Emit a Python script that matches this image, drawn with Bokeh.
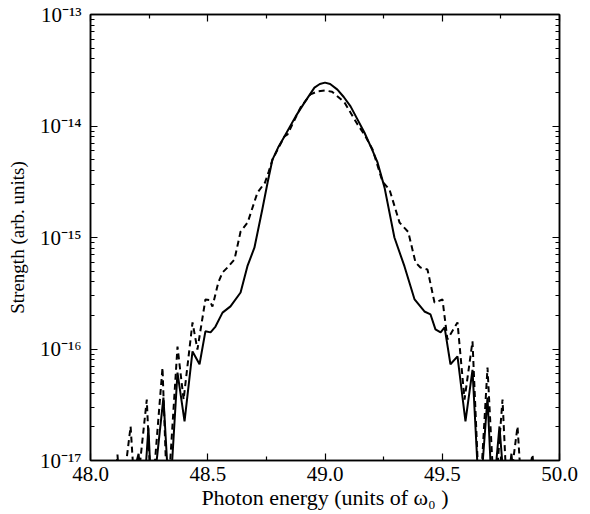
from bokeh.plotting import figure
from bokeh.models import (Range1d, FixedTicker, CustomJSTickFormatter, LinearAxis, LogAxis)
from bokeh.embed import file_html
from bokeh.resources import INLINE

# Photon energy (units of omega_0)
solid_x = [48.150, 48.205, 48.225, 48.247, 48.262, 48.311, 48.337, 48.371, 48.401,
           48.435, 48.465, 48.490, 48.512, 48.533, 48.563, 48.597, 48.640, 48.670,
           48.699, 48.733, 48.755, 48.776, 48.800, 48.827, 48.875, 48.913, 48.955,
           48.978, 49.000, 49.022, 49.053, 49.080,
           49.109, 49.168, 49.200, 49.224, 49.254, 49.296, 49.339, 49.382, 49.424, 49.450,
           49.471, 49.493, 49.510, 49.535, 49.565, 49.599, 49.629, 49.659, 49.693,
           49.714, 49.744, 49.770, 49.795, 49.815, 49.850]
solid_y = [4e-18, 1.15e-17, 4e-18, 1.98e-17, 4e-18, 3.67e-17, 4e-18, 6.15e-17, 2.24e-17,
           9.5e-17, 7.3e-17, 1.44e-16, 1.41e-16, 1.59e-16, 2.12e-16, 2.41e-16, 3.21e-16, 5.6e-16,
           8.1e-16, 1.8e-15, 3.1e-15, 5.0e-15, 6.4e-15, 8.05e-15, 1.22e-14, 1.63e-14, 2.21e-14,
           2.38e-14, 2.45e-14, 2.38e-14, 2.12e-14, 1.82e-14,
           1.50e-14, 8.75e-15, 6.2e-15, 4.71e-15, 2.8e-15, 1.0e-15, 5.5e-16, 2.78e-16, 2.17e-16, 2.04e-16,
           1.50e-16, 1.41e-16, 1.56e-16, 7.3e-17, 8.6e-17, 2.24e-17, 6.5e-17, 4e-18, 3.67e-17,
           4e-18, 2.02e-17, 4e-18, 1.15e-17, 4e-18, 4e-18]

dashed_x = [48.100, 48.115, 48.130, 48.171, 48.192, 48.240, 48.260, 48.307, 48.328,
            48.371, 48.397, 48.435, 48.456, 48.490, 48.507, 48.520, 48.545, 48.563,
            48.584, 48.614, 48.640, 48.670, 48.712, 48.744, 48.760, 48.776, 48.827,
            48.840, 48.896, 48.938, 48.970, 49.000, 49.030, 49.083, 49.139, 49.168, 49.203, 49.245,
            49.275, 49.318, 49.355, 49.386, 49.407, 49.437, 49.467, 49.480, 49.501,
            49.522, 49.565, 49.595, 49.629, 49.659, 49.693, 49.723, 49.757, 49.778,
            49.821, 49.842, 49.885, 49.900]
dashed_y = [4e-18, 1.13e-17, 4e-18, 2.02e-17, 4e-18, 3.52e-17, 4e-18, 6.8e-17, 4e-18,
            1.05e-16, 3.52e-17, 1.73e-16, 9.9e-17, 2.78e-16, 2.75e-16, 2.4e-16, 3.95e-16, 4.86e-16,
            5.38e-16, 6.35e-16, 1.13e-15, 1.36e-15, 2.53e-15, 3.11e-15, 3.9e-15, 5.0e-15, 8.05e-15,
            8.4e-15, 1.47e-14, 1.92e-14, 2.05e-14, 2.08e-14, 2.03e-14, 1.63e-14, 1.03e-14, 8.4e-15, 6.15e-15, 3.18e-15,
            2.69e-15, 1.36e-15, 1.12e-15, 5.97e-16, 5.38e-16, 5.17e-16, 2.61e-16, 2.67e-16, 2.78e-16,
            1.22e-16, 1.73e-16, 3.52e-17, 1.17e-16, 4e-18, 6.8e-17, 4e-18, 3.52e-17, 4e-18,
            2.02e-17, 4e-18, 1.13e-17, 4e-18]

x_major = [48.0, 48.5, 49.0, 49.5, 50.0]
x_minor = [48.25, 48.75, 49.25, 49.75]
y_major = [1e-17, 1e-16, 1e-15, 1e-14, 1e-13]
y_minor = [k * d for d in [1e-17, 1e-16, 1e-15, 1e-14] for k in range(2, 10)]

FONT = "Liberation Serif"

p = figure(frame_width=469, frame_height=446, y_axis_type="log",
           x_range=Range1d(48.0, 50.0), y_range=Range1d(1e-17, 1e-13),
           output_backend="svg", toolbar_location=None,
           min_border_left=90, min_border_top=14, min_border_right=20, min_border_bottom=40)
p.background_fill_color = "white"
p.border_fill_color = "white"
p.outline_line_color = "black"
p.outline_line_width = 1.5
p.grid.visible = False

p.line(solid_x, solid_y, line_color="black", line_width=2)
p.line(dashed_x, dashed_y, line_color="black", line_width=2, line_dash="6 4")

xt = FixedTicker(ticks=x_major, minor_ticks=x_minor)
yt = FixedTicker(ticks=y_major, minor_ticks=y_minor)

sup_code = """
const e = Math.round(Math.log10(tick));
const sup = {'-':'\u207b','0':'\u2070','1':'\u00b9','2':'\u00b2','3':'\u00b3','4':'\u2074',
             '5':'\u2075','6':'\u2076','7':'\u2077','8':'\u2078','9':'\u2079'};
return '10' + String(e).split('').map(c => sup[c]).join('');
"""

def style(ax):
    ax.major_tick_in = 7
    ax.major_tick_out = 0
    ax.minor_tick_in = 4
    ax.minor_tick_out = 0
    ax.axis_line_color = "black"
    ax.axis_line_width = 1.5
    ax.major_tick_line_width = 1.2
    ax.minor_tick_line_width = 1.2
    ax.major_label_text_font = FONT
    ax.major_label_text_font_size = "21px"
    ax.major_label_text_color = "black"
    ax.axis_label_text_font = FONT
    ax.axis_label_text_font_size = "19px"
    ax.axis_label_text_font_style = "normal"
    ax.axis_label_text_color = "black"

xa = p.xaxis[0]
xa.ticker = xt
xa.formatter = CustomJSTickFormatter(code="return tick.toFixed(1);")
xa.axis_label = "Photon energy (units of \u03c9\u2080 )"
xa.axis_label_standoff = 1
xa.major_label_standoff = 6
style(xa)
xa.axis_label_text_font_size = "22px"

ya = p.yaxis[0]
ya.ticker = yt
ya.formatter = CustomJSTickFormatter(code=sup_code)
ya.axis_label = "Strength (arb. units)"
ya.axis_label_standoff = 9
ya.major_label_standoff = 9
style(ya)

blank = "return '';"
top = LinearAxis(ticker=FixedTicker(ticks=x_major, minor_ticks=x_minor),
                 formatter=CustomJSTickFormatter(code=blank))
style(top)
top.major_label_standoff = 0
p.add_layout(top, "above")
right = LogAxis(ticker=FixedTicker(ticks=y_major, minor_ticks=y_minor),
                formatter=CustomJSTickFormatter(code=blank))
style(right)
right.major_label_standoff = 0
p.add_layout(right, "right")

open("out.html", "w").write(file_html(p, INLINE))
